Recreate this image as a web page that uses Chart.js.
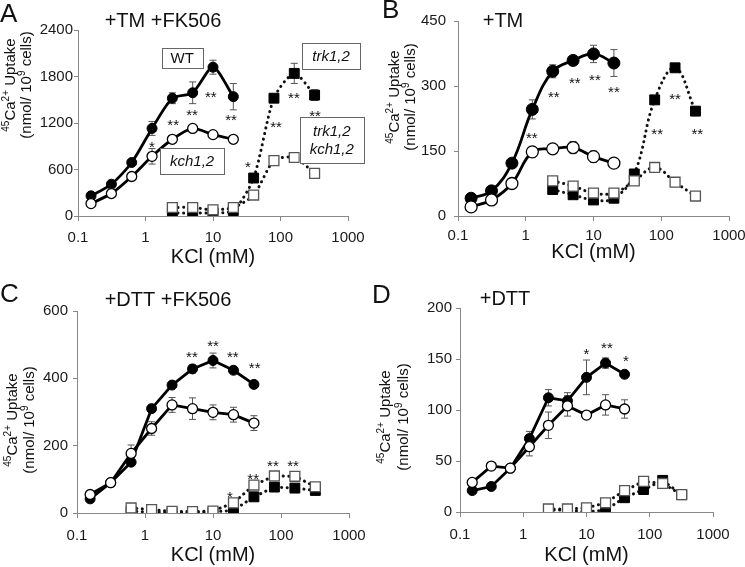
<!DOCTYPE html>
<html lang="en">
<head>
<meta charset="UTF-8">
<title>KCl-induced Ca2+ uptake</title>
<style>
  body { margin: 0; background: #fff; }
  #wrap { position: relative; width: 745px; height: 567px; }
  canvas { position: absolute; }
</style>
</head>
<body>
<div id="wrap">
  <canvas id="panelA" width="372" height="283" style="left:0;top:0"></canvas>
  <canvas id="panelB" width="373" height="283" style="left:372px;top:0"></canvas>
  <canvas id="panelC" width="372" height="284" style="left:0;top:283px"></canvas>
  <canvas id="panelD" width="373" height="284" style="left:372px;top:283px"></canvas>
</div>

<script src="https://cdn.jsdelivr.net/npm/chart.js"></script>
<script>
// KCl concentrations (mM)
const kclTicks = [0.1, 1, 10, 100, 1000];
const kclCircles8 = [0.156, 0.3125, 0.625, 1.25, 2.5, 5, 10, 20];
const kclCircles9 = [0.156, 0.3125, 0.625, 1.25, 2.5, 5, 10, 20, 40];
const kclSquares8 = [2.5, 5, 10, 20, 40, 80, 160, 320];
const kclSquares10 = [0.625, 1.25, 2.5, 5, 10, 20, 40, 80, 160, 320];

// A: +TM +FK506
const aWT        = [260, 410, 690, 1130, 1520, 1590, 1920, 1540];
const aWTErr     = [0, 0, 0, 90, 70, 140, 90, 170];
const aKch       = [160, 290, 510, 770, 990, 1130, 1050, 990];
const aKchErr    = [0, 0, 0, 100, 40, 0, 0, 0];
const aTrk       = [40, 40, 40, 70, 490, 1520, 1840, 1560];
const aTrkErr    = [0, 0, 0, 0, 0, 40, 130, 70];
const aTrkKch    = [110, 110, 80, 110, 270, 715, 755, 550];
const aTrkKchErr = [0, 0, 0, 0, 0, 0, 0, 0];

// B: +TM
const bWT        = [41, 58, 122, 246, 334, 359, 374, 353];
const bWTErr     = [0, 0, 0, 22, 15, 0, 20, 31];
const bKch       = [21, 37, 75, 148, 155, 158, 137, 122];
const bKchErr    = [0, 0, 0, 12, 10, 14, 13, 10];
const bTrk       = [61, 49, 37, 41, 97, 268, 342, 242];
const bTrkErr    = [0, 0, 0, 0, 0, 0, 0, 10];
const bTrkKch    = [81, 69, 53, 53, 81, 112, 78, 46];
const bTrkKchErr = [0, 0, 0, 0, 0, 0, 0, 0];

// C: +DTT +FK506
const cWT        = [42, 90, 151, 310, 380, 428, 453, 424, 382];
const cWTErr     = [0, 0, 0, 0, 0, 12, 22, 0, 0];
const cKch       = [55, 90, 177, 251, 321, 310, 299, 292, 267];
const cKchErr    = [0, 0, 25, 20, 22, 32, 22, 22, 22];
const cTrk       = [5, 3, 2, 2, 3, 8, 48, 77, 74, 67];
const cTrkErr    = [0, 0, 0, 0, 0, 0, 0, 0, 0, 0];
const cTrkKch    = [15, 10, 5, 4, 6, 30, 83, 110, 109, 78];
const cTrkKchErr = [0, 0, 0, 0, 0, 0, 0, 0, 0, 0];

// D: +DTT
const dWT        = [21, 25, 43, 72, 112, 109, 132, 146, 135];
const dWTErr     = [0, 0, 0, 7, 8, 8, 17, 5, 0];
const dKch       = [29, 45, 43, 64, 85, 104, 95, 105, 101];
const dKchErr    = [0, 0, 0, 9, 13, 10, 0, 10, 9];
const dTrk       = [2, 2, 0, 2, 14, 22, 31, 17];
const dTrkErr    = [0, 0, 0, 0, 0, 0, 0, 0];
const dTrkKch    = [3, 3, 4, 9, 21, 30, 28, 17];
const dTrkKchErr = [0, 0, 0, 0, 0, 0, 0, 0];

// significance marks [KCl, value, text]
const aStars = [[1.24, 935, '*'], [2.57, 1214, '**'], [4.9, 1343, '**'], [9.3, 1579, '**'], [18.5, 1278, '**'],
                [33, 678, '*'], [86, 1193, '**'], [158, 1566, '**'], [325, 1330, '**']];
const bStars = [[1.23, 187, '**'], [2.6, 282, '**'], [5.3, 315, '**'], [10.5, 323, '**'], [20, 294, '**'],
                [87, 197, '**'], [160, 279, '**'], [340, 197, '**']];
const cStars = [[4.9, 473, '**'], [10, 507, '**'], [19.6, 473, '**'], [41, 442, '**'],
                [17.8, 59, '*'], [39, 111, '**'], [76, 149, '**'], [150, 149, '**']];
const dStars = [[10, 158, '*'], [21, 164, '**'], [42, 151, '*']];

// strain label boxes in panel A [KCl, value, lines]
const aLabels = [[3.5, 2040, ['WT']], [4.9, 710, ['kch1,2']], [560, 2064, ['trk1,2']], [575, 980, ['trk1,2', 'kch1,2']]];

Chart.defaults.font.family = 'Arial, "Liberation Sans", Helvetica, sans-serif';
Chart.defaults.color = '#1a1a1a';

const FONT = 'Arial, "Liberation Sans", Helvetica, sans-serif';

function drawRich(ctx, parts, x, y) {
  let total = 0;
  parts.forEach(p => {
    ctx.font = (p.sup ? '10px ' : '15px ') + FONT;
    p.w = ctx.measureText(p.t).width;
    total += p.w;
  });
  let cx = x - total / 2;
  parts.forEach(p => {
    ctx.font = (p.sup ? '10px ' : '15px ') + FONT;
    ctx.fillText(p.t, cx, p.sup ? y - 5 : y);
    cx += p.w;
  });
}

function makePanel(id, p) {
  const pts = (xs, ys) => xs.map((x, i) => ({x: x, y: ys[i]}));
  const dotted = {borderColor: '#111', borderWidth: 3, borderDash: [0.1, 5.5], borderCapStyle: 'round'};
  const datasets = [
    Object.assign({data: pts(p.sqX, p.trkKch), order: 0, pointStyle: 'rect', pointRadius: 7,
      pointBackgroundColor: '#fff', pointBorderColor: '#555', pointBorderWidth: 1.3, tension: p.tension}, dotted),
    Object.assign({data: pts(p.sqX, p.trk), order: 1, pointStyle: 'rect', pointRadius: 7,
      pointBackgroundColor: '#000', pointBorderColor: '#000', pointBorderWidth: 1, tension: p.tension}, dotted),
    {data: pts(p.cX, p.kch), order: 2, pointRadius: p.r, pointBackgroundColor: '#fff', pointBorderColor: '#000',
      pointBorderWidth: 1.3, borderColor: '#000', borderWidth: 2.8, tension: p.tension},
    {data: pts(p.cX, p.wt), order: 3, pointRadius: p.r, pointBackgroundColor: '#000', pointBorderColor: '#000',
      pointBorderWidth: 1, borderColor: '#000', borderWidth: 2.8, tension: p.tension}
  ];
  const errSets = [[p.sqX, p.trkKch, p.trkKchErr], [p.sqX, p.trk, p.trkErr], [p.cX, p.kch, p.kchErr], [p.cX, p.wt, p.wtErr]];

  const deco = {
    id: 'deco',
    beforeDatasetsDraw(chart) {
      const ctx = chart.ctx, xs = chart.scales.x, ys = chart.scales.y;
      ctx.save();
      ctx.strokeStyle = '#555';
      ctx.lineWidth = 1;
      errSets.forEach(([xv, yv, ev]) => {
        xv.forEach((x, i) => {
          if (!ev[i]) return;
          const px = xs.getPixelForValue(x);
          const y1 = ys.getPixelForValue(yv[i] - ev[i]);
          const y2 = ys.getPixelForValue(yv[i] + ev[i]);
          ctx.beginPath();
          ctx.moveTo(px, y1); ctx.lineTo(px, y2);
          ctx.moveTo(px - 3.5, y1); ctx.lineTo(px + 3.5, y1);
          ctx.moveTo(px - 3.5, y2); ctx.lineTo(px + 3.5, y2);
          ctx.stroke();
        });
      });
      ctx.restore();
    },
    afterDraw(chart) {
      const ctx = chart.ctx, xs = chart.scales.x, ys = chart.scales.y, area = chart.chartArea;
      ctx.save();
      ctx.fillStyle = '#111';
      // panel letter and condition
      ctx.textBaseline = 'middle';
      ctx.textAlign = 'left';
      ctx.font = '26px ' + FONT;
      ctx.fillText(p.letter, p.letterPos[0], p.letterPos[1]);
      ctx.textAlign = 'center';
      ctx.font = '20px ' + FONT;
      ctx.fillText(p.title, p.titlePos[0], p.titlePos[1]);
      // x title
      ctx.fillText('KCl (mM)', (area.left + area.right) / 2, area.bottom + p.xTitleDy);
      // y title
      ctx.save();
      ctx.translate(p.yTitle[0], p.yTitle[2]);
      ctx.rotate(-Math.PI / 2);
      ctx.textAlign = 'left';
      drawRich(ctx, [{t: '45', sup: true}, {t: 'Ca'}, {t: '2+', sup: true}, {t: ' Uptake'}], 0, 0);
      drawRich(ctx, [{t: '(nmol/ 10'}, {t: '9', sup: true}, {t: ' cells)'}], 0, p.yTitle[1]);
      ctx.restore();
      // stars
      ctx.textAlign = 'center';
      ctx.textBaseline = 'alphabetic';
      ctx.font = '15px ' + FONT;
      p.stars.forEach(([x, y, t]) => {
        ctx.fillText(t, xs.getPixelForValue(x), ys.getPixelForValue(y) + 8.5);
      });
      // strain label boxes
      ctx.textBaseline = 'middle';
      (p.labels || []).forEach(([x, y, lines]) => {
        const cx = xs.getPixelForValue(x), cy = ys.getPixelForValue(y);
        const italic = lines[0] !== 'WT';
        ctx.font = (italic ? 'italic ' : '') + '15px ' + FONT;
        const tw = Math.max(...lines.map(l => ctx.measureText(l).width));
        const w = tw + (italic ? 20 : 18);
        const h = lines.length * 18 + (lines.length > 1 ? 10 : (italic ? 8 : 2));
        ctx.fillStyle = '#fff';
        ctx.fillRect(cx - w / 2, cy - h / 2, w, h);
        ctx.strokeStyle = '#666';
        ctx.lineWidth = 1;
        ctx.strokeRect(Math.round(cx - w / 2) + 0.5, Math.round(cy - h / 2) + 0.5, Math.round(w), Math.round(h));
        ctx.fillStyle = '#111';
        lines.forEach((l, i) => {
          ctx.fillText(l, cx, cy + (i - (lines.length - 1) / 2) * 18 + 1);
        });
      });
      ctx.restore();
    }
  };

  return new Chart(document.getElementById(id), {
    type: 'line',
    data: {datasets: datasets},
    options: {
      responsive: false,
      animation: false,
      layout: {padding: {left: 0, top: p.box.top, right: p.box.right, bottom: 0}},
      plugins: {legend: {display: false}, tooltip: {enabled: false}},
      scales: {
        x: {
          type: 'logarithmic', min: 0.1, max: 1000,
          afterBuildTicks: s => { s.ticks = kclTicks.map(v => ({value: v})); },
          afterFit: s => { s.height = p.box.bottom; s.paddingLeft = 0; s.paddingRight = 0; },
          ticks: {callback: v => String(v), font: {size: 15}, padding: p.xPad, maxRotation: 0, autoSkip: false},
          grid: {drawOnChartArea: false, drawTicks: true, tickLength: 5, color: '#888'},
          border: {color: '#888', width: 1}
        },
        y: {
          min: 0, max: p.yMax,
          afterBuildTicks: s => {
            s.ticks = [];
            for (let v = 0; v <= p.yMax; v += p.yStep) s.ticks.push({value: v});
          },
          afterFit: s => { s.width = p.box.left; s.paddingTop = 0; s.paddingBottom = 0; },
          ticks: {callback: v => String(v), font: {size: 15}, padding: p.yPad},
          grid: {drawOnChartArea: false, drawTicks: true, tickLength: 4, color: '#888'},
          border: {color: '#888', width: 1}
        }
      }
    },
    plugins: [deco]
  });
}

makePanel('panelA', {
  letter: 'A', letterPos: [0, 15], title: '+TM +FK506', titlePos: [163, 21],
  xTitleDy: 41, yTitle: [11, 16, 85],
  box: {left: 78, top: 30, right: 24, bottom: 67}, yPad: 1, xPad: 7.5,
  yMax: 2400, yStep: 600, tension: 0.25, r: 5,
  cX: kclCircles8, wt: aWT, wtErr: aWTErr, kch: aKch, kchErr: aKchErr,
  sqX: kclSquares8, trk: aTrk, trkErr: aTrkErr, trkKch: aTrkKch, trkKchErr: aTrkKchErr,
  stars: aStars, labels: aLabels
});

makePanel('panelB', {
  letter: 'B', letterPos: [10, 11], title: '+TM', titlePos: [131, 21],
  xTitleDy: 36, yTitle: [23, 16, 97],
  box: {left: 86, top: 21, right: 16, bottom: 67}, yPad: 8, xPad: 5.5,
  yMax: 450, yStep: 150, tension: 0.4, r: 6,
  cX: kclCircles8, wt: bWT, wtErr: bWTErr, kch: bKch, kchErr: bKchErr,
  sqX: kclSquares8, trk: bTrk, trkErr: bTrkErr, trkKch: bTrkKch, trkKchErr: bTrkKchErr,
  stars: bStars
});

makePanel('panelC', {
  letter: 'C', letterPos: [0, 12], title: '+DTT +FK506', titlePos: [168, 17],
  xTitleDy: 42, yTitle: [13, 17, 137],
  box: {left: 77, top: 28, right: 23, bottom: 54}, yPad: 5, xPad: 8.5,
  yMax: 600, yStep: 200, tension: 0, r: 5,
  cX: kclCircles9, wt: cWT, wtErr: cWTErr, kch: cKch, kchErr: cKchErr,
  sqX: kclSquares10, trk: cTrk, trkErr: cTrkErr, trkKch: cTrkKch, trkKchErr: cTrkKchErr,
  stars: cStars
});

makePanel('panelD', {
  letter: 'D', letterPos: [0, 12.5], title: '+DTT', titlePos: [133, 16],
  xTitleDy: 43, yTitle: [14, 18, 134],
  box: {left: 88, top: 25, right: 32, bottom: 55}, yPad: 4, xPad: 8.5,
  yMax: 200, yStep: 50, tension: 0, r: 5,
  cX: kclCircles9, wt: dWT, wtErr: dWTErr, kch: dKch, kchErr: dKchErr,
  sqX: kclSquares8, trk: dTrk, trkErr: dTrkErr, trkKch: dTrkKch, trkKchErr: dTrkKchErr,
  stars: dStars
});
</script>
</body>
</html>
